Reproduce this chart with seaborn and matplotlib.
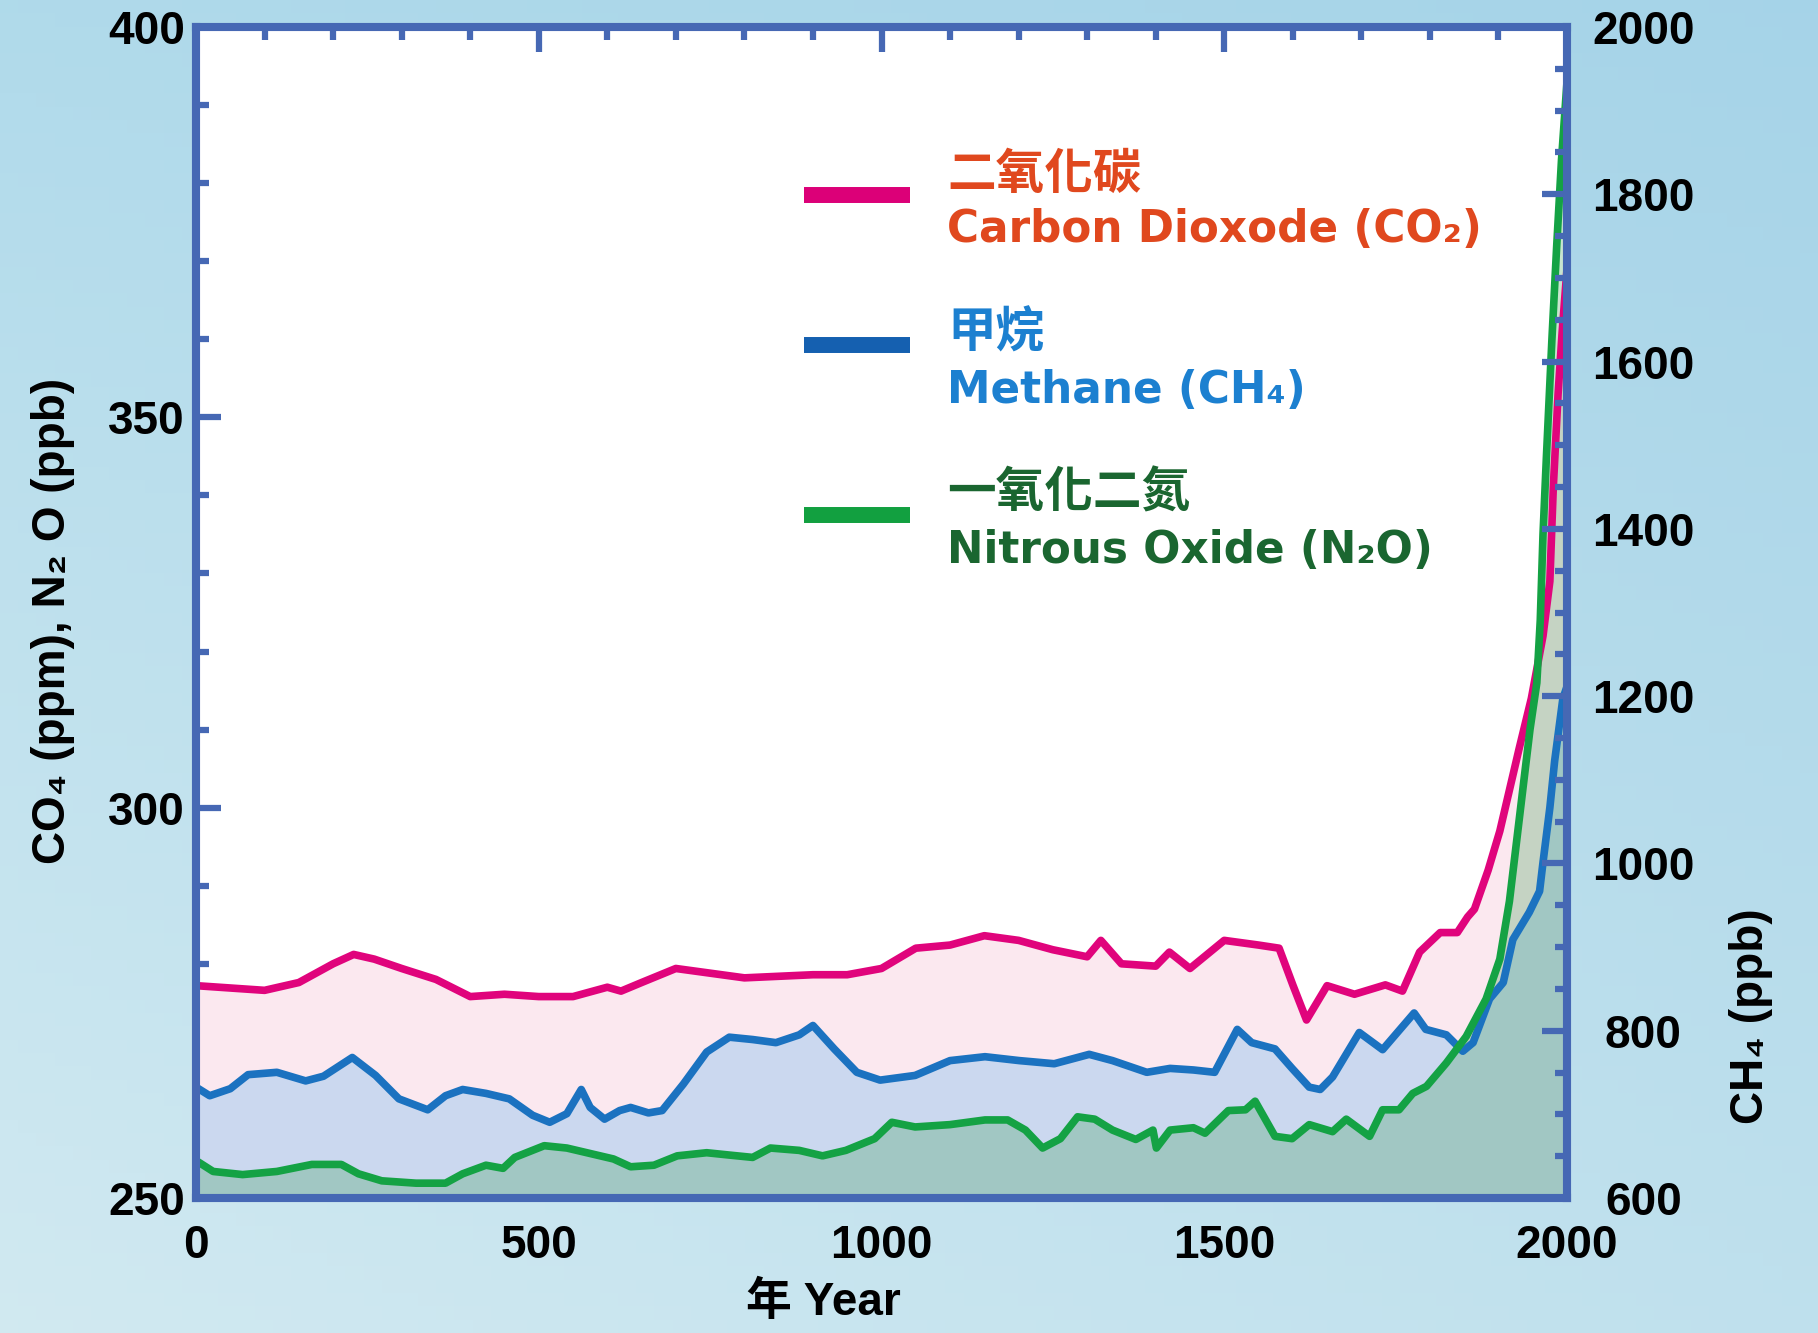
import numpy as np
import pandas as pd
import matplotlib
matplotlib.use("Agg")
import matplotlib.pyplot as plt
import seaborn as sns
from matplotlib.lines import Line2D
from matplotlib.ticker import FixedLocator, MultipleLocator

# ---------------- data (left-axis units) ----------------
co2_years = [0, 50, 100, 150, 200, 230, 260, 300, 350, 400, 450, 500, 550, 600, 620, 650,
             700, 750, 800, 850, 900, 950, 1000, 1050, 1100, 1150, 1200, 1250, 1300, 1320,
             1350, 1400, 1420, 1450, 1500, 1550, 1580, 1600, 1620, 1650, 1690, 1735, 1760,
             1785, 1815, 1840, 1855, 1865, 1885, 1902, 1930, 1948, 1965, 1975, 1980, 1987,
             1993, 2000]
co2_values = [277.2, 276.9, 276.6, 277.6, 280.0, 281.2, 280.6, 279.4, 278.0, 275.8, 276.1,
              275.8, 275.8, 277.0, 276.5, 277.6, 279.4, 278.8, 278.2, 278.4, 278.6, 278.6,
              279.4, 282.0, 282.4, 283.6, 283.0, 281.8, 280.9, 283.0, 280.0, 279.7, 281.5,
              279.4, 283.0, 282.4, 282.0, 277.3, 272.8, 277.2, 276.1, 277.3, 276.5, 281.5,
              284.0, 284.0, 286.0, 287.0, 292.0, 297.0, 307.5, 314.0, 322.0, 329.0, 341.0,
              353.0, 361.0, 369.0]

ch4_years = [0, 20, 50, 76, 118, 160, 186, 228, 262, 296, 338, 364, 389, 423, 457, 491, 516,
             541, 562, 575, 596, 618, 634, 660, 680, 711, 745, 778, 812, 846, 880, 900, 931,
             964, 998, 1049, 1100, 1151, 1201, 1252, 1303, 1337, 1387, 1421, 1455, 1486, 1519,
             1540, 1574, 1599, 1624, 1640, 1658, 1697, 1731, 1777, 1794, 1824, 1848, 1863,
             1887, 1907, 1921, 1945, 1960, 1965, 1975, 1982, 1994, 2000]
ch4_values = [264.2, 263.1, 264.0, 265.8, 266.1, 265.0, 265.6, 268.0, 265.7, 262.7, 261.3,
              263.1, 263.9, 263.4, 262.7, 260.6, 259.7, 260.8, 263.9, 261.6, 260.1, 261.2,
              261.6, 260.9, 261.2, 264.6, 268.7, 270.6, 270.3, 269.9, 270.9, 272.1, 269.1,
              266.1, 265.1, 265.7, 267.6, 268.1, 267.6, 267.2, 268.4, 267.6, 266.1, 266.6,
              266.4, 266.1, 271.6, 269.9, 269.1, 266.6, 264.2, 263.9, 265.5, 271.2, 269.0,
              273.7, 271.6, 270.9, 268.8, 269.9, 275.5, 277.6, 283.1, 286.6, 289.3, 293.0,
              300.0, 306.0, 314.0, 315.5]

n2o_years = [0, 25, 68, 118, 169, 212, 237, 271, 321, 364, 389, 423, 448, 465, 508, 541, 575,
             609, 634, 668, 702, 745, 778, 812, 838, 880, 914, 948, 990, 1015, 1049, 1100,
             1151, 1184, 1210, 1235, 1261, 1286, 1311, 1337, 1371, 1396, 1401, 1421, 1455,
             1472, 1506, 1531, 1545, 1574, 1599, 1624, 1658, 1678, 1712, 1731, 1755, 1775,
             1795, 1824, 1853, 1882, 1902, 1916, 1931, 1946, 1956, 1961, 1965, 1970, 1978,
             1985, 1992, 2000]
n2o_values = [254.8, 253.4, 253.0, 253.4, 254.3, 254.3, 253.1, 252.2, 251.9, 251.9, 253.1,
              254.2, 253.8, 255.2, 256.7, 256.4, 255.7, 255.0, 254.0, 254.2, 255.4, 255.8,
              255.5, 255.2, 256.4, 256.1, 255.4, 256.1, 257.6, 259.7, 259.1, 259.4, 260.0,
              260.0, 258.7, 256.4, 257.6, 260.4, 260.1, 258.7, 257.5, 258.7, 256.4, 258.7,
              259.0, 258.3, 261.2, 261.3, 262.4, 257.9, 257.6, 259.4, 258.5, 260.1, 257.9,
              261.3, 261.3, 263.4, 264.3, 267.3, 270.7, 275.5, 280.6, 288.0, 299.0, 310.0,
              316.0, 324.0, 335.0, 345.0, 360.0, 372.0, 383.0, 393.0]

x_ticks = [0, 500, 1000, 1500, 2000]
left_ticks = [250, 300, 350, 400]
right_ticks = [600, 800, 1000, 1200, 1400, 1600, 1800, 2000]

legend_zh = ["二氧化碳", "甲烷", "一氧化二氮"]
legend_en = ["Carbon Dioxode (CO₂)", "Methane (CH₄)", "Nitrous Oxide (N₂O)"]
left_label = "CO₄ (ppm), N₂ O (ppb)"
right_label = "CH₄ (ppb)"
x_label = "年 Year"

# ---------------- style ----------------
sns.set_theme(style="ticks")
plt.rcParams["font.family"] = ["Liberation Sans", "DejaVu Sans", "Noto Sans CJK TC"]
plt.rcParams["font.weight"] = "bold"
plt.rcParams["text.color"] = "black"
plt.rcParams["xtick.labelcolor"] = "black"
plt.rcParams["ytick.labelcolor"] = "black"

spine_c = "#4668B4"
line_c = ["#E0047C", "#1B72C0", "#14A244"]
swatch_c = ["#DC0078", "#1560B0", "#12A040"]
text_c = ["#E0481E", "#1C80D0", "#1A6630"]

W, H = 1818, 1333
fig = plt.figure(figsize=(W / 100, H / 100), dpi=100)

# gradient background
bg = fig.add_axes([0, 0, 1, 1], zorder=-10)
c_tl = np.array([0.69, 0.855, 0.92])
c_tr = np.array([0.65, 0.83, 0.91])
c_bl = np.array([0.82, 0.915, 0.945])
c_br = np.array([0.75, 0.88, 0.93])
yy, xx = np.mgrid[0:1:100j, 0:1:100j]
img = ((1 - yy)[..., None] * ((1 - xx)[..., None] * c_tl + xx[..., None] * c_tr)
       + yy[..., None] * ((1 - xx)[..., None] * c_bl + xx[..., None] * c_br))
bg.imshow(img, extent=[0, 1, 0, 1], aspect="auto", origin="upper")
bg.set_axis_off()

L, R, T, B = 196, 1567, 27, 1198
ax = fig.add_axes([L / W, 1 - B / H, (R - L) / W, (B - T) / H])
ax.set_facecolor("white")

df_co2 = pd.DataFrame({"year": co2_years, "value": co2_values})
df_ch4 = pd.DataFrame({"year": ch4_years, "value": ch4_values})
df_n2o = pd.DataFrame({"year": n2o_years, "value": n2o_values})

ax.fill_between(df_co2.year, df_co2.value, 250, color="#FBE8EF", lw=0, zorder=1)
ax.fill_between(df_ch4.year, df_ch4.value, 250, color="#CBD8EF", lw=0, zorder=1.1)
ax.fill_between(df_n2o.year, df_n2o.value, 250, color="#279842", alpha=0.25, lw=0, zorder=1.2)

for df, c, z in [(df_co2, line_c[0], 2.0), (df_ch4, line_c[1], 2.1), (df_n2o, line_c[2], 2.2)]:
    sns.lineplot(data=df, x="year", y="value", ax=ax, color=c, lw=5.5,
                 estimator=None, sort=False, zorder=z, solid_joinstyle="round",
                 solid_capstyle="round")

ax.set_xlim(0, 2000)
ax.set_ylim(250, 400)
ax.set_xlabel("")
ax.set_ylabel("")
ax.xaxis.set_major_locator(FixedLocator(x_ticks))
ax.xaxis.set_minor_locator(MultipleLocator(100))
ax.yaxis.set_major_locator(FixedLocator(left_ticks))
ax.yaxis.set_minor_locator(MultipleLocator(10))
ax.tick_params(which="both", direction="in", top=True, bottom=True, left=True, right=False,
               color=spine_c, width=4.5, labelsize=33, labelcolor="black")
ax.tick_params(which="major", length=18)
ax.tick_params(which="minor", length=9)
ax.tick_params(axis="x", pad=19)
ax.tick_params(axis="y", pad=8)
for s in ax.spines.values():
    s.set_visible(True)
    s.set_linewidth(5.8)
    s.set_color(spine_c)

ax2 = ax.twinx()
ax2.set_ylim(600, 2000)
ax2.yaxis.set_major_locator(FixedLocator(right_ticks))
ax2.yaxis.set_minor_locator(MultipleLocator(50))
ax2.tick_params(which="both", direction="in", right=True, left=False, color=spine_c,
                width=4.5, labelsize=33, pad=55, labelcolor="black")
ax2.tick_params(which="major", length=18)
ax2.tick_params(which="minor", length=9)
for s in ax2.spines.values():
    s.set_linewidth(5.8)
    s.set_color(spine_c)
for t in ax2.get_yticklabels():
    t.set_ha("center")

# axis titles
fig.text(53 / W, 1 - 621 / H, left_label, rotation=90, ha="center", va="center",
         fontsize=33, weight="bold", color="black")
fig.text(1751 / W, 1 - 1016 / H, right_label, rotation=90, ha="center", va="center",
         fontsize=33, weight="bold", color="black")
fig.text(823 / W, 1 - 1303 / H, x_label, ha="center", va="center",
         fontsize=33, weight="bold", color="black")

# legend (manual, two-line labels)
sw_y = [195, 345, 515]
zh_y = [174, 333, 493]
en_y = [242, 403, 563]
for i in range(3):
    fig.add_artist(Line2D([804 / W, 910 / W], [1 - sw_y[i] / H] * 2, lw=11.5,
                          color=swatch_c[i], solid_capstyle="butt"))
    fig.text(947 / W, 1 - zh_y[i] / H, legend_zh[i], ha="left", va="center",
             fontsize=35, weight="bold", color=text_c[i], family=["Noto Sans CJK TC"])
    fig.text(947 / W, 1 - en_y[i] / H, legend_en[i], ha="left", va="baseline",
             fontsize=31.5, weight="bold", color=text_c[i], family=["DejaVu Sans"])

fig.savefig("out.png", dpi=100)
